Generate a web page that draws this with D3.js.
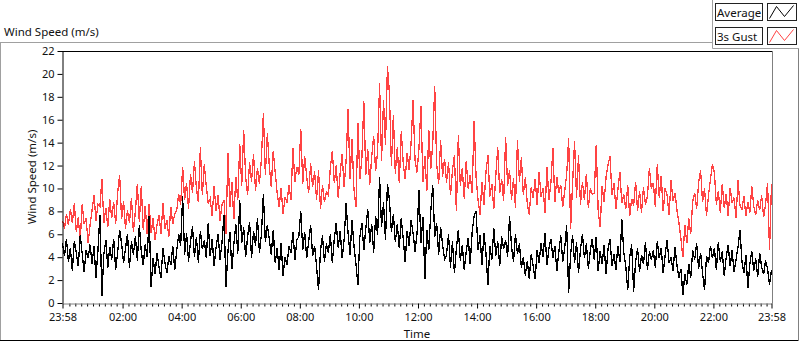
<!DOCTYPE html>
<html>
<head>
<meta charset="utf-8">
<script src="https://cdn.jsdelivr.net/npm/d3@7"></script>
<style>
  html, body { margin: 0; padding: 0; background: #fff; }
  svg { display: block; font-family: "Noto Sans", sans-serif; }
</style>
</head>
<body>
<div id="chart"></div>
<script>
// Samples every 4 minutes from 23:58 to 23:58 (15 per hour, one row per hour)
const avgSpeed = [
  5.2, 4.1, 5.6, 3.6, 4.8, 2.8, 5.4, 4.4, 3.2, 5.9, 4.3, 2.7, 4.6, 3.9, 5.1,
  3.4, 5.0, 2.2, 4.6, 7.7, 0.6, 4.3, 5.5, 3.1, 4.9, 3.8, 5.6, 2.9, 4.4, 6.4,
  5.2, 3.5, 4.8, 6.0, 3.1, 5.4, 4.2, 5.8, 3.7, 6.8, 4.5, 3.3, 5.1, 4.0, 7.6,
  1.4, 3.9, 2.5, 4.4, 3.1, 2.2, 4.8, 3.5, 2.6, 4.1, 3.3, 5.0, 2.9, 4.6, 6.0,
  5.0, 9.3, 4.2, 6.1, 3.6, 5.4, 6.7, 4.0, 5.8, 3.5, 6.3, 4.7, 5.5, 3.9, 7.0,
  4.1, 5.6, 3.2, 4.9, 6.0, 3.8, 5.3, 7.7, 1.4, 4.5, 6.2, 3.0, 5.1, 6.9, 4.3,
  9.0, 5.2, 6.6, 4.0, 5.8, 7.1, 3.9, 6.3, 5.0, 7.4, 4.4, 6.0, 9.5, 5.3, 6.8,
  5.6, 4.2, 6.4, 3.5, 4.8, 2.9, 5.2, 2.4, 4.0, 3.3, 5.0, 4.4, 6.2, 3.8, 5.5,
  5.8, 8.0, 4.6, 6.2, 3.9, 5.4, 6.8, 4.1, 5.0, 3.2, 1.1, 4.6, 5.9, 3.6, 5.2,
  4.4, 6.0, 3.5, 5.6, 7.0, 4.8, 6.3, 3.9, 5.5, 8.7, 6.1, 4.2, 7.2, 5.0, 3.4,
  1.6, 5.8, 7.0, 4.6, 6.5, 8.2, 5.2, 6.9, 4.4, 7.6, 5.9, 11.0, 6.6, 8.8, 5.5,
  10.4, 9.0, 6.2, 7.8, 5.3, 6.9, 4.8, 7.4, 5.6, 3.6, 6.3, 5.0, 7.2, 6.1, 4.5,
  6.0, 9.9, 5.2, 7.5, 2.1, 6.4, 4.6, 8.0, 10.3, 5.8, 7.0, 4.2, 6.6, 5.1, 3.8,
  4.2, 6.0, 3.1, 5.4, 2.6, 4.8, 6.4, 3.7, 5.1, 2.9, 4.5, 5.7, 3.4, 6.2, 7.6,
  8.0, 4.6, 5.9, 3.3, 6.1, 4.4, 1.6, 5.0, 3.8, 6.5, 4.1, 5.4, 3.2, 5.8, 4.7,
  5.5, 4.0, 7.6, 4.9, 3.6, 6.0, 4.3, 5.2, 3.1, 4.0, 2.4, 3.7, 2.1, 4.3, 3.2,
  2.1, 4.6, 3.5, 5.2, 4.0, 6.1, 3.3, 4.8, 5.6, 3.9, 5.0, 2.8, 4.4, 5.9, 3.6,
  4.8, 6.8, 0.9, 4.2, 5.9, 3.5, 5.3, 2.6, 4.7, 6.0, 3.9, 5.2, 3.0, 4.6, 5.6,
  3.8, 5.8, 2.8, 4.5, 3.4, 5.1, 2.5, 4.7, 5.6, 3.2, 4.3, 2.9, 5.0, 3.6, 7.3,
  4.4, 3.2, 1.1, 4.0, 5.1, 1.0, 3.6, 4.8, 2.7, 4.2, 3.4, 5.3, 2.9, 4.5, 3.8,
  4.6, 3.1, 5.4, 3.9, 4.8, 2.6, 4.2, 5.5, 3.5, 4.0, 2.8, 4.9, 3.3, 2.2, 3.0,
  0.7, 2.5, 1.6, 3.4, 2.2, 4.6, 3.8, 5.2, 3.0, 4.4, 2.6, 1.1, 4.1, 3.5, 5.0,
  3.9, 4.8, 2.9, 5.3, 3.6, 4.5, 2.4, 4.0, 5.1, 3.2, 4.6, 2.7, 3.8, 4.9, 6.4,
  3.6, 2.6, 4.2, 1.3, 3.4, 4.5, 2.8, 3.9, 2.3, 4.4, 3.1, 2.5, 3.7, 3.0, 1.6,
  2.9
];

const gustSpeed = [
  7.2, 6.5, 7.8, 6.8, 8.2, 7.0, 8.7, 6.2, 7.5, 5.4, 8.6, 6.9, 7.4, 5.2, 6.8,
  8.1, 9.4, 7.2, 8.6, 8.4, 10.8, 7.0, 8.3, 6.6, 9.1, 7.4, 8.8, 6.9, 9.6, 11.2,
  7.3, 8.9, 6.5, 8.1, 7.0, 9.2, 6.2, 8.0, 10.4, 7.1, 10.2, 6.4, 8.5, 6.0, 8.6,
  6.1, 7.4, 5.5, 6.8, 7.7, 6.0, 8.7, 6.5, 7.2, 5.8, 8.4, 6.9, 7.8, 8.1, 9.5,
  8.6, 11.9, 9.0, 10.5, 8.2, 11.3, 9.6, 12.4, 10.0, 8.8, 13.6, 9.4, 12.1, 10.2, 8.7,
  9.1, 7.6, 10.2, 8.0, 9.4, 7.2, 8.6, 9.0, 6.0, 13.1, 8.4, 10.6, 7.3, 11.0, 9.0,
  13.9, 10.2, 15.1, 11.0, 9.4, 12.3, 10.6, 13.0, 9.8, 11.8, 10.4, 12.6, 16.6, 11.2, 14.8,
  12.0, 10.1, 13.3, 11.4, 9.6, 8.4, 10.0, 7.8, 9.2, 8.8, 10.3, 9.0, 13.5, 10.6, 11.9,
  11.2, 15.2, 10.4, 12.8, 11.0, 9.6, 12.2, 10.1, 11.5, 9.0, 11.6, 8.2, 10.3, 8.8, 9.7,
  9.4, 11.8, 13.3, 10.5, 12.0, 9.2, 11.4, 13.0, 10.1, 12.4, 16.9, 10.8, 14.3, 9.9, 8.4,
  15.7, 10.8, 12.6, 17.6, 11.2, 13.4, 10.3, 12.8, 14.6, 11.5, 13.2, 19.2, 12.4, 17.7, 13.8,
  20.7, 18.3, 12.0, 16.4, 11.3, 13.6, 10.5, 15.0, 12.2, 10.8, 13.1, 11.6, 14.0, 17.7, 12.5,
  11.4, 13.5, 17.2, 10.6, 12.8, 9.8, 15.1, 11.7, 13.9, 18.9, 12.1, 10.4, 14.2, 11.0, 12.6,
  10.5, 12.3, 9.4, 11.6, 12.9, 8.0, 14.7, 10.2, 11.8, 9.1, 12.4, 10.0, 11.2, 9.6, 15.9,
  11.0, 9.0, 7.7, 10.6, 8.6, 11.4, 12.9, 9.3, 10.4, 8.2, 11.1, 13.6, 9.6, 10.8, 8.9,
  14.5, 10.2, 11.6, 9.0, 10.9, 8.3, 14.2, 10.6, 12.7, 9.4, 11.0, 8.7, 7.7, 10.1, 9.2,
  10.8, 8.6, 11.4, 9.3, 10.0, 7.9, 11.9, 9.0, 10.5, 13.5, 8.8, 11.0, 9.6, 10.3, 8.4,
  9.8, 11.2, 14.4, 6.5, 10.4, 14.1, 9.2, 12.9, 8.6, 10.6, 9.0, 11.3, 8.3, 10.0, 9.5,
  9.6, 13.8, 8.0, 6.6, 10.2, 8.8, 11.0, 12.1, 12.8, 9.4, 10.5, 8.2, 9.9, 11.4, 8.7,
  9.5, 8.2, 10.3, 7.6, 9.1, 8.5, 10.6, 8.0, 9.8, 7.9, 10.1, 8.6, 9.3, 11.8, 10.0,
  10.5, 8.4, 12.1, 9.2, 11.1, 8.0, 10.0, 9.4, 7.7, 10.7, 8.9, 9.6, 8.1, 7.0, 5.6,
  4.0, 6.8, 5.2, 7.4, 6.0, 8.9, 9.6, 8.2, 10.5, 11.6, 8.8, 10.0, 7.6, 9.4, 10.8,
  12.1, 11.4, 8.6, 9.8, 7.9, 10.4, 8.3, 9.5, 7.6, 10.0, 8.8, 9.2, 7.4, 10.7, 8.5,
  8.2, 9.3, 7.6, 8.8, 7.9, 10.2, 8.4, 7.7, 9.0, 8.1, 9.4, 7.5, 8.6, 10.5, 4.6,
  10.4
];

const stepMinutes = 4;
const yTicks = [0, 2, 4, 6, 8, 10, 12, 14, 16, 18, 20, 22];
const xTickHours = [2, 4, 6, 8, 10, 12, 14, 16, 18, 20, 22];
const seriesNames = ["Average", "3s Gust"];
const seriesColors = ["#000000", "#ff4343"];

const width = 800;
const height = 342;
const marginTop = 51;
const marginRight = 28;
const marginBottom = 39;
const marginLeft = 62;

const svg = d3.select("#chart").append("svg")
  .attr("width", width)
  .attr("height", height);

svg.append("rect").attr("width", width).attr("height", height).attr("fill", "#fff");

// time axis: one full day ending at 23:58
const t0 = new Date(2020, 0, 1, 23, 58);
const t1 = d3.timeHour.offset(t0, 24);
const x = d3.scaleTime().domain([t0, t1]).range([marginLeft + 0.5, width - marginRight - 0.5]);
const y = d3.scaleLinear().domain([0, 22]).range([height - marginBottom, marginTop]);

const avgData = avgSpeed.map((v, i) => ({ t: d3.timeMinute.offset(t0, i * stepMinutes), v }));
const gustData = gustSpeed.map((v, i) => ({ t: d3.timeMinute.offset(t0, i * stepMinutes), v }));

// outer panel frame
svg.append("line").attr("x1", 0).attr("x2", 712).attr("y1", 42.5).attr("y2", 42.5).attr("stroke", "#a0a0a0");
svg.append("line").attr("x1", 0.5).attr("x2", 0.5).attr("y1", 42.5).attr("y2", 341).attr("stroke", "#a0a0a0");
svg.append("line").attr("x1", 0).attr("x2", 799).attr("y1", 340.5).attr("y2", 340.5).attr("stroke", "#000");
svg.append("line").attr("x1", 798.5).attr("x2", 798.5).attr("y1", 48.5).attr("y2", 341).attr("stroke", "#808080");

// legend container
svg.append("line").attr("x1", 712.5).attr("x2", 712.5).attr("y1", 0).attr("y2", 48.5).attr("stroke", "#a0a0a0");
svg.append("line").attr("x1", 712.5).attr("x2", 799).attr("y1", 48.5).attr("y2", 48.5).attr("stroke", "#a0a0a0");

svg.append("text")
  .attr("x", 4).attr("y", 36)
  .attr("font-size", 11.5)
  .attr("fill", "#111")
  .text("Wind Speed (m/s)");

// legend entries
const iconPts = [[2, 15], [9, 3], [17, 13], [26, 2]];
seriesNames.forEach((name, i) => {
  const gy = 3.5 + i * 24;
  svg.append("rect").attr("x", 715.5).attr("y", gy).attr("width", 47).attr("height", 17)
    .attr("fill", "#fff").attr("stroke", "#222");
  svg.append("text").attr("x", 717).attr("y", gy + 13)
    .attr("font-size", 11.5).attr("fill", "#111").text(name);
  svg.append("rect").attr("x", 767.5).attr("y", gy).attr("width", 29).attr("height", 17)
    .attr("fill", "#fff").attr("stroke", "#222");
  svg.append("path")
    .attr("d", d3.line()(iconPts.map(p => [767.5 + p[0], gy + p[1]])))
    .attr("fill", "none").attr("stroke", seriesColors[i]).attr("stroke-width", 1);
});

// plot area
svg.append("clipPath").attr("id", "plot-clip").append("rect")
  .attr("x", marginLeft).attr("y", marginTop)
  .attr("width", width - marginLeft - marginRight)
  .attr("height", height - marginTop - marginBottom);

const line = d3.line().x(d => x(d.t)).y(d => y(d.v));

const plot = svg.append("g").attr("clip-path", "url(#plot-clip)")
  .attr("shape-rendering", "crispEdges");
plot.append("path").datum(gustData)
  .attr("fill", "none").attr("stroke", seriesColors[1]).attr("stroke-width", 1.3)
  .attr("d", line);
plot.append("path").datum(avgData)
  .attr("fill", "none").attr("stroke", seriesColors[0]).attr("stroke-width", 1.3)
  .attr("d", line);

// plot borders
svg.append("line").attr("x1", marginLeft).attr("x2", width - marginRight).attr("y1", marginTop + 0.5).attr("y2", marginTop + 0.5).attr("stroke", "#000");
svg.append("line").attr("x1", width - marginRight + 0.5).attr("x2", width - marginRight + 0.5).attr("y1", marginTop).attr("y2", height - marginBottom + 0.5).attr("stroke", "#808080");

// y axis
const yAxis = svg.append("g")
  .attr("transform", `translate(${marginLeft + 0.5},0)`)
  .call(d3.axisLeft(y).tickValues(yTicks).tickSize(5).tickPadding(3).tickSizeOuter(0));
yAxis.selectAll("text").attr("font-size", 11).attr("font-family", "Noto Sans").attr("fill", "#111");
yAxis.selectAll(".tick line").attr("stroke", "#000");
yAxis.select(".domain").attr("stroke", "#000");

// x axis: minor ticks every 12 minutes, labelled major ticks every 2 hours plus both ends
const majorTicks = [t0, ...xTickHours.map(h => new Date(2020, 0, 2, h, 0)), t1];
const minorTicks = d3.timeMinute.every(12).range(t0, t1)
  .filter(t => !(t.getMinutes() === 0 && t.getHours() % 2 === 0));

svg.append("g")
  .attr("transform", `translate(0,${height - marginBottom + 0.5})`)
  .call(d3.axisBottom(x).tickValues(minorTicks).tickSize(3).tickFormat("").tickSizeOuter(0))
  .call(g => g.select(".domain").remove())
  .selectAll("line").attr("stroke", "#000");

const xAxis = svg.append("g")
  .attr("transform", `translate(0,${height - marginBottom + 0.5})`)
  .call(d3.axisBottom(x).tickValues(majorTicks).tickSize(5).tickPadding(5)
    .tickFormat(d3.timeFormat("%H:%M")).tickSizeOuter(0));
xAxis.selectAll("text").attr("font-size", 11).attr("font-family", "Noto Sans").attr("fill", "#111");
xAxis.selectAll(".tick line").attr("stroke", "#000").attr("stroke-width", 1);
xAxis.select(".domain").attr("stroke", "#808080");

// axis titles
svg.append("text")
  .attr("x", (marginLeft + width - marginRight) / 2)
  .attr("y", 338)
  .attr("text-anchor", "middle")
  .attr("font-size", 11.5).attr("fill", "#111")
  .text("Time");

svg.append("text")
  .attr("transform", `translate(36,${(marginTop + height - marginBottom) / 2}) rotate(-90)`)
  .attr("text-anchor", "middle")
  .attr("font-size", 11.5).attr("fill", "#111")
  .text("Wind Speed (m/s)");
</script>
</body>
</html>
